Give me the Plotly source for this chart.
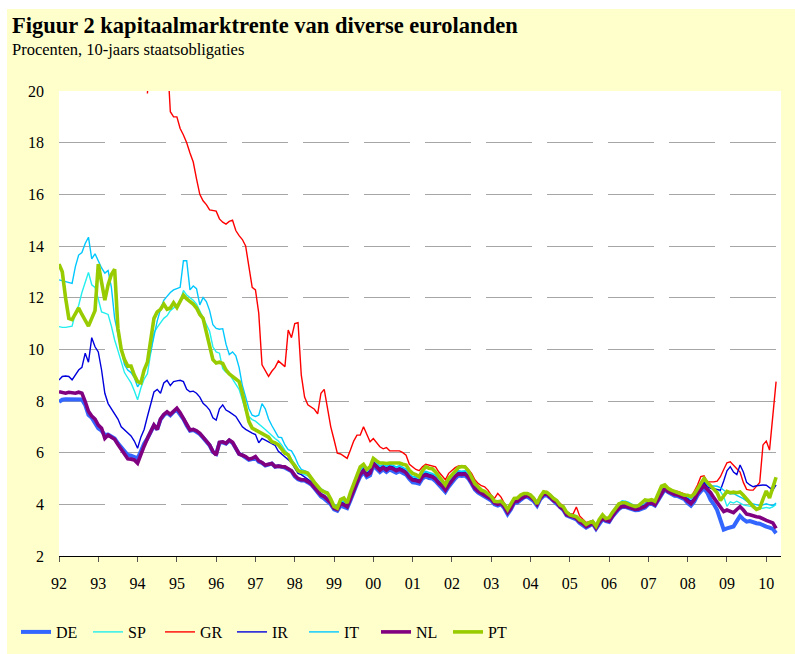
import plotly.graph_objects as go

# ---------------- data (monthly, Jan 1992 - Apr 2010) ----------------
start_year = 1992
series_names = ["DE", "SP", "GR", "IR", "IT", "NL", "PT"]

DE = [
    7.97, 8.05, 8.07, 8.07, 8.08, 8.07, 8.07, 8.06, 7.85, 7.46, 7.35, 7.15,
    6.94, 6.85, 6.68, 6.70, 6.62, 6.55, 6.36, 6.20, 6.04, 5.91, 5.88, 5.82,
    5.78, 6.05, 6.35, 6.55, 6.80, 7.05, 6.90, 7.28, 7.45, 7.55, 7.45, 7.58,
    7.65, 7.50, 7.30, 7.05, 6.85, 6.88, 6.82, 6.72, 6.58, 6.42, 6.28, 6.02,
    5.95, 6.38, 6.40, 6.35, 6.47, 6.38, 6.18, 5.95, 5.90, 5.83, 5.72, 5.75,
    5.80, 5.65, 5.60, 5.50, 5.55, 5.58, 5.45, 5.48, 5.45, 5.42, 5.35, 5.28,
    5.08, 4.97, 4.92, 4.92, 4.85, 4.77, 4.62, 4.45, 4.30, 4.22, 4.12, 4.00,
    3.80, 3.75, 3.95, 3.92, 3.85, 4.15, 4.50, 4.80, 5.08, 5.25, 5.05, 5.12,
    5.50, 5.38, 5.25, 5.35, 5.25, 5.35, 5.30, 5.22, 5.28, 5.22, 5.15, 4.98,
    4.85, 4.83, 4.80, 5.00, 5.08, 5.02, 5.00, 4.90, 4.75, 4.65, 4.48, 4.68,
    4.85, 5.00, 5.12, 5.10, 5.12, 5.00, 4.80, 4.57, 4.45, 4.38, 4.33, 4.25,
    4.15, 4.00, 3.95, 4.00, 3.85, 3.62, 3.80, 4.05, 4.07, 4.17, 4.27, 4.30,
    4.22, 4.12, 3.95, 4.20, 4.33, 4.35, 4.25, 4.12, 4.03, 3.87, 3.78, 3.57,
    3.52, 3.48, 3.42, 3.28, 3.20, 3.10, 3.17, 3.25, 3.05, 3.27, 3.42, 3.35,
    3.32, 3.52, 3.68, 3.82, 3.90, 3.90, 3.85, 3.82, 3.77, 3.78, 3.83, 3.88,
    4.00, 4.02, 3.95, 4.17, 4.42, 4.58, 4.47, 4.38, 4.33, 4.32, 4.25, 4.20,
    4.05, 3.95, 4.10, 4.35, 4.50, 4.62, 4.45, 4.17, 4.00, 3.78, 3.40, 3.02,
    3.07, 3.10, 3.14, 3.35, 3.55, 3.42, 3.33, 3.35, 3.30, 3.27, 3.25, 3.18,
    3.14, 3.10, 3.05, 2.88,
]

NL = [
    8.36, 8.32, 8.30, 8.34, 8.32, 8.30, 8.34, 8.30, 7.98, 7.60, 7.42, 7.30,
    7.07, 6.95, 6.55, 6.68, 6.60, 6.52, 6.32, 6.15, 5.95, 5.76, 5.75, 5.72,
    5.59, 5.95, 6.25, 6.55, 6.78, 7.07, 6.90, 7.30, 7.48, 7.58, 7.48, 7.62,
    7.72, 7.55, 7.35, 7.10, 6.88, 6.90, 6.85, 6.75, 6.60, 6.45, 6.30, 6.05,
    5.91, 6.40, 6.42, 6.36, 6.49, 6.40, 6.20, 5.95, 5.90, 5.85, 5.75, 5.78,
    5.85, 5.68, 5.62, 5.52, 5.55, 5.58, 5.46, 5.48, 5.46, 5.45, 5.38, 5.30,
    5.12, 5.00, 4.95, 4.95, 4.88, 4.80, 4.65, 4.50, 4.36, 4.30, 4.18, 4.05,
    3.85, 3.80, 4.02, 3.98, 3.90, 4.20, 4.55, 4.85, 5.15, 5.30, 5.12, 5.20,
    5.58, 5.45, 5.32, 5.42, 5.32, 5.42, 5.38, 5.30, 5.36, 5.30, 5.22, 5.05,
    4.94, 4.92, 4.88, 5.08, 5.14, 5.10, 5.07, 4.98, 4.82, 4.72, 4.55, 4.75,
    4.92, 5.08, 5.18, 5.16, 5.18, 5.05, 4.85, 4.62, 4.50, 4.42, 4.38, 4.30,
    4.20, 4.05, 4.00, 4.05, 3.90, 3.68, 3.85, 4.10, 4.12, 4.22, 4.30, 4.35,
    4.28, 4.17, 4.00, 4.25, 4.38, 4.40, 4.28, 4.15, 4.08, 3.90, 3.82, 3.60,
    3.55, 3.52, 3.45, 3.32, 3.25, 3.14, 3.20, 3.28, 3.08, 3.30, 3.45, 3.38,
    3.35, 3.55, 3.72, 3.85, 3.92, 3.92, 3.88, 3.85, 3.80, 3.82, 3.88, 3.92,
    4.04, 4.05, 3.98, 4.20, 4.45, 4.62, 4.50, 4.42, 4.38, 4.36, 4.30, 4.25,
    4.12, 4.02, 4.18, 4.42, 4.58, 4.72, 4.58, 4.45, 4.25, 4.08, 3.90, 3.72,
    3.78, 3.72, 3.68, 3.80, 3.91, 3.78, 3.62, 3.60, 3.55, 3.52, 3.50, 3.42,
    3.38, 3.33, 3.28, 3.07,
]

IR = [
    8.81, 8.95, 8.97, 8.95, 8.82, 9.00, 9.20, 9.30, 9.85, 9.50, 10.45, 10.10,
    9.90, 9.20, 8.30, 7.90, 7.70, 7.50, 7.30, 7.00, 6.88, 6.75, 6.65, 6.45,
    6.17, 6.60, 6.90, 7.40, 7.85, 8.35, 8.45, 8.30, 8.70, 8.80, 8.60, 8.75,
    8.78, 8.80, 8.75, 8.45, 8.36, 8.38, 8.30, 8.15, 7.91, 7.80, 7.65, 7.35,
    7.26, 7.70, 7.85, 7.65, 7.58, 7.50, 7.40, 7.20, 7.00, 6.90, 6.82, 6.76,
    6.70, 6.38, 6.55, 6.50, 6.42, 6.35, 6.28, 6.05, 5.95, 5.82, 5.72, 5.62,
    5.40, 5.20, 5.15, 5.05, 4.98, 4.88, 4.72, 4.58, 4.42, 4.35, 4.22, 4.10,
    3.92, 3.88, 4.08, 4.05, 3.98, 4.28, 4.65, 4.95, 5.22, 5.40, 5.20, 5.30,
    5.65, 5.52, 5.40, 5.48, 5.40, 5.48, 5.45, 5.36, 5.42, 5.36, 5.28, 5.10,
    5.00, 4.98, 4.94, 5.14, 5.20, 5.16, 5.12, 5.04, 4.88, 4.78, 4.60, 4.82,
    4.98, 5.13, 5.24, 5.22, 5.24, 5.12, 4.92, 4.70, 4.56, 4.48, 4.44, 4.36,
    4.25, 4.10, 4.05, 4.10, 3.95, 3.72, 3.90, 4.14, 4.17, 4.27, 4.36, 4.40,
    4.33, 4.22, 4.05, 4.30, 4.42, 4.45, 4.34, 4.22, 4.13, 3.97, 3.88, 3.67,
    3.60, 3.56, 3.50, 3.36, 3.28, 3.18, 3.25, 3.32, 3.13, 3.33, 3.50, 3.43,
    3.40, 3.60, 3.76, 3.90, 3.98, 3.98, 3.94, 3.91, 3.86, 3.88, 3.92, 3.96,
    4.08, 4.10, 4.03, 4.25, 4.50, 4.66, 4.55, 4.46, 4.42, 4.40, 4.33, 4.28,
    4.22, 4.12, 4.25, 4.48, 4.65, 4.85, 4.68, 4.62, 4.60, 4.58, 4.55, 4.90,
    5.30, 5.46, 5.25, 5.15, 5.52, 5.25, 4.85, 4.75, 4.68, 4.72, 4.75, 4.75,
    4.74, 4.65, 4.55, 4.75,
]

GR = [None] * 27 + [
    19.90, 23.0, 24.0, 24.5, 24.0, 23.0, 21.5, 19.2, 19.0,
    19.00, 18.55, 18.30, 18.00, 17.60, 17.25, 16.60, 16.00, 15.75, 15.60, 15.40, 15.38,
    15.35, 15.05, 14.92, 14.85, 14.95, 15.00, 14.60, 14.40, 14.25, 14.00, 13.20, 12.40,
    12.30, 11.40, 9.40, 9.20, 8.95, 9.15, 9.30, 9.55, 9.45, 9.33, 10.75, 10.45,
    11.00, 11.03, 9.00, 8.15, 7.85, 7.75, 7.68, 7.50, 8.30, 8.45, 7.70, 7.00,
    6.50, 5.98, 5.95, 5.85, 5.78, 6.10, 6.45, 6.68, 6.68, 7.00, 6.68, 6.42,
    6.55, 6.40, 6.23, 6.15, 6.20, 6.07, 6.07, 6.07, 6.07, 6.00, 5.90, 5.55,
    5.45, 5.35, 5.30, 5.45, 5.55, 5.52, 5.50, 5.45, 5.25, 5.10, 4.95, 5.20,
    5.33, 5.42, 5.49, 5.49, 5.49, 5.35, 5.20, 4.95, 4.81, 4.72, 4.68, 4.55,
    4.36, 4.23, 4.42, 4.28, 4.05, 3.80, 3.95, 4.20, 4.22, 4.32, 4.42, 4.45,
    4.38, 4.27, 4.10, 4.35, 4.47, 4.50, 4.38, 4.27, 4.17, 4.02, 3.93, 3.72,
    3.65, 3.62, 3.90, 3.55, 3.42, 3.30, 3.33, 3.38, 3.18, 3.38, 3.55, 3.48,
    3.45, 3.65, 3.82, 3.98, 4.06, 4.06, 4.02, 3.98, 3.92, 3.95, 3.98, 4.02,
    4.15, 4.16, 4.10, 4.32, 4.56, 4.72, 4.62, 4.55, 4.52, 4.50, 4.45, 4.40,
    4.38, 4.30, 4.50, 4.75, 5.07, 5.10, 4.87, 4.86, 4.87, 4.90, 5.07, 5.35,
    5.61, 5.65, 5.50, 5.38, 5.25, 4.85, 4.58, 4.55, 4.55, 4.70, 4.85, 6.30,
    6.45, 6.10, 7.30, 8.75,
]

IT = [
    12.69, 12.65, 12.62, 12.60, 12.55, 13.20, 13.65, 13.75, 14.10, 14.34, 13.50, 13.70,
    13.40, 13.15, 12.95, 13.05, 12.40, 11.20, 10.60, 10.00, 9.40, 9.20, 9.10, 8.90,
    8.55, 8.75, 9.15, 9.50, 9.90, 10.50, 11.10, 11.55, 11.90, 12.05, 12.20, 12.30,
    12.35, 12.40, 13.43, 13.43, 12.30, 12.45, 12.35, 11.72, 12.00, 11.85, 11.50, 10.95,
    10.81, 10.78, 10.80, 10.20, 9.80, 9.90, 9.75, 9.30, 8.60, 8.15, 7.70, 7.45,
    7.40, 7.45, 7.90, 7.70, 7.30, 7.05, 6.81, 6.60, 6.58, 6.30, 6.12, 6.07,
    5.85, 5.55, 5.35, 5.30, 5.25, 5.05, 4.90, 4.70, 4.60, 4.52, 4.48, 4.25,
    3.98, 3.95, 4.15, 4.12, 4.05, 4.35, 4.72, 5.02, 5.30, 5.48, 5.28, 5.38,
    5.72, 5.62, 5.48, 5.55, 5.48, 5.55, 5.52, 5.45, 5.50, 5.45, 5.37, 5.18,
    5.08, 5.06, 5.02, 5.22, 5.28, 5.24, 5.20, 5.12, 4.98, 4.88, 4.70, 4.90,
    5.05, 5.20, 5.30, 5.28, 5.30, 5.17, 4.98, 4.76, 4.62, 4.55, 4.50, 4.42,
    4.30, 4.15, 4.10, 4.15, 4.00, 3.78, 3.95, 4.18, 4.21, 4.32, 4.40, 4.44,
    4.37, 4.27, 4.10, 4.34, 4.47, 4.48, 4.38, 4.26, 4.17, 4.01, 3.92, 3.72,
    3.63, 3.60, 3.55, 3.42, 3.36, 3.27, 3.32, 3.38, 3.20, 3.38, 3.54, 3.48,
    3.48, 3.68, 3.85, 4.02, 4.12, 4.12, 4.08, 4.02, 3.93, 3.95, 3.98, 4.02,
    4.13, 4.15, 4.08, 4.30, 4.54, 4.70, 4.59, 4.50, 4.46, 4.44, 4.38, 4.34,
    4.30, 4.25, 4.38, 4.58, 4.80, 5.05, 4.78, 4.72, 4.72, 4.70, 4.65, 4.55,
    4.45, 4.40, 4.42, 4.35, 4.30, 4.22, 4.12, 4.05, 4.02, 3.98, 3.95, 3.98,
    4.02, 3.98, 3.95, 4.05,
]

SP = [
    10.88, 10.85, 10.85, 10.88, 10.90, 11.40, 11.70, 12.20, 12.60, 12.98, 12.50, 12.40,
    11.95, 11.45, 11.40, 11.35, 10.90, 10.36, 9.95, 9.50, 9.10, 8.90, 8.70, 8.40,
    8.05, 8.50, 8.85, 9.05, 9.90, 10.65, 10.85, 11.02, 11.20, 11.30, 11.50, 11.60,
    11.70, 11.85, 12.28, 12.10, 12.00, 11.90, 11.75, 11.50, 11.26, 11.00, 10.70, 10.10,
    9.90, 9.85, 9.25, 9.12, 9.05, 8.85, 8.65, 8.45, 8.05, 7.60, 7.40, 7.28,
    7.22, 7.12, 7.00, 6.90, 6.78, 6.65, 6.55, 6.45, 6.30, 6.10, 5.95, 5.75,
    5.55, 5.35, 5.20, 5.15, 5.10, 5.00, 4.85, 4.62, 4.50, 4.45, 4.35, 4.15,
    3.95, 3.92, 4.12, 4.10, 4.02, 4.32, 4.68, 4.98, 5.26, 5.44, 5.24, 5.34,
    5.68, 5.58, 5.45, 5.52, 5.45, 5.52, 5.48, 5.42, 5.47, 5.41, 5.33, 5.15,
    5.05, 5.03, 4.98, 5.18, 5.25, 5.20, 5.17, 5.08, 4.94, 4.84, 4.66, 4.86,
    5.02, 5.17, 5.28, 5.26, 5.28, 5.15, 4.95, 4.72, 4.58, 4.50, 4.46, 4.38,
    4.26, 4.12, 4.06, 4.11, 3.97, 3.74, 3.92, 4.16, 4.19, 4.30, 4.38, 4.42,
    4.35, 4.24, 4.07, 4.32, 4.45, 4.46, 4.36, 4.24, 4.15, 3.99, 3.90, 3.68,
    3.60, 3.57, 3.52, 3.39, 3.33, 3.24, 3.29, 3.35, 3.17, 3.36, 3.52, 3.46,
    3.46, 3.66, 3.84, 4.02, 4.14, 4.10, 4.05, 3.99, 3.90, 3.92, 3.95, 3.99,
    4.11, 4.12, 4.06, 4.28, 4.52, 4.67, 4.56, 4.47, 4.43, 4.41, 4.35, 4.31,
    4.27, 4.20, 4.32, 4.52, 4.70, 4.92, 4.72, 4.66, 4.62, 4.58, 4.50, 4.30,
    3.92, 4.10, 4.05, 4.12, 4.05, 3.98, 3.95, 3.92, 3.90, 3.88, 3.86, 3.85,
    3.88, 3.85, 3.90, 4.00,
]

PT = [
    13.30, 13.00, 12.00, 11.20, 11.15, 11.40, 11.60, 11.35, 11.10, 10.90, 11.20, 11.50,
    13.30, 12.60, 11.90, 12.50, 12.90, 13.10, 10.80, 10.00, 9.60, 9.35, 9.35, 9.00,
    8.75, 8.70, 9.20, 9.50, 10.30, 11.20, 11.45, 11.55, 11.75, 11.55, 11.60, 11.80,
    11.62, 11.90, 12.10, 11.95, 11.85, 11.75, 11.60, 11.35, 11.20, 10.70, 10.20, 9.60,
    9.47, 9.50, 9.45, 9.20, 9.05, 8.94, 8.85, 8.75, 8.30, 7.80, 7.20, 6.95,
    6.88, 6.80, 6.76, 6.70, 6.60, 6.42, 6.38, 6.30, 6.15, 5.98, 5.92, 5.65,
    5.50, 5.30, 5.25, 5.25, 5.20, 5.00, 4.85, 4.70, 4.55, 4.48, 4.43, 4.20,
    3.92, 3.85, 4.18, 4.24, 4.05, 4.45, 4.80, 5.10, 5.45, 5.55, 5.35, 5.45,
    5.78, 5.68, 5.60, 5.60, 5.58, 5.60, 5.60, 5.58, 5.60, 5.55, 5.52, 5.32,
    5.20, 5.15, 5.07, 5.30, 5.46, 5.40, 5.38, 5.25, 5.07, 4.90, 4.75, 5.00,
    5.13, 5.30, 5.42, 5.46, 5.45, 5.30, 5.07, 4.80, 4.68, 4.55, 4.50, 4.42,
    4.30, 4.12, 4.10, 4.12, 4.00, 3.80, 4.00, 4.23, 4.24, 4.36, 4.42, 4.42,
    4.36, 4.23, 4.02, 4.30, 4.49, 4.46, 4.36, 4.23, 4.15, 3.97, 3.91, 3.70,
    3.59, 3.56, 3.52, 3.40, 3.35, 3.22, 3.30, 3.33, 3.15, 3.42, 3.59, 3.45,
    3.48, 3.68, 3.85, 4.02, 4.06, 4.06, 4.00, 3.95, 3.91, 3.95, 4.05, 4.17,
    4.15, 4.18, 4.12, 4.38, 4.70, 4.75, 4.62, 4.55, 4.50, 4.45, 4.42, 4.35,
    4.35, 4.30, 4.40, 4.60, 4.80, 5.00, 4.85, 4.70, 4.60, 4.45, 4.15, 4.35,
    4.50, 4.45, 4.47, 4.45, 4.48, 4.35, 4.20, 4.02, 3.92, 3.80, 3.85, 4.20,
    4.52, 4.25, 4.60, 5.05,
]

year_ticks = list(range(1992, 2011))
year_labels = ["%02d" % (y % 100) for y in year_ticks]

# ---------------- styling ----------------
styles = {
    "DE": dict(color="#3366FF", width=4),
    "SP": dict(color="#22EEEE", width=1.4),
    "GR": dict(color="#FF0000", width=1.4),
    "IR": dict(color="#0000DD", width=1.4),
    "IT": dict(color="#00C8FF", width=1.4),
    "NL": dict(color="#800080", width=3.6),
    "PT": dict(color="#99CC00", width=3.6),
}
data = {"DE": DE, "SP": SP, "GR": GR, "IR": IR, "IT": IT, "NL": NL, "PT": PT}

fig = go.Figure()
for name in series_names:
    vals = data[name]
    x = [start_year + i / 12.0 for i in range(len(vals))]
    fig.add_trace(go.Scatter(x=x, y=vals, mode="lines", name=name,
                             line=dict(color=styles[name]["color"], width=styles[name]["width"]),
                             connectgaps=False))

SERIF = "Liberation Serif"
L, R, T, B = 59, 14, 91, 98
W, H = 795, 654
pw, ph = W - L - R, H - T - B


def px_x(p):
    return (p - L) / pw


def px_y(p):
    return (H - B - p) / ph


fig.update_layout(
    width=W, height=H,
    margin=dict(l=L, r=R, t=T, b=B, pad=0, autoexpand=False),
    paper_bgcolor="#FFFFCC",
    plot_bgcolor="#FFFFFF",
    font=dict(family=SERIF, size=16, color="black"),
    showlegend=True,
    legend=dict(orientation="h", x=px_x(16), xanchor="left", y=px_y(632), yanchor="middle",
                font=dict(family=SERIF, size=16, color="black"),
                bgcolor="rgba(0,0,0,0)", itemwidth=30,
                entrywidth=27, entrywidthmode="pixels", tracegroupgap=0),
    xaxis=dict(range=[1992, 2010.375], tickmode="array", tickvals=year_ticks, ticktext=year_labels,
               showgrid=False, zeroline=False, showline=True, linecolor="black", linewidth=1.2,
               ticks="outside", ticklen=5, tickwidth=1, tickcolor="#555555",
               tickfont=dict(family=SERIF, size=16, color="black"), ticklabelstandoff=8),
    yaxis=dict(range=[2, 20], dtick=2, tick0=2, showgrid=True, gridcolor="#A6A6A6", gridwidth=1,
               griddash="46px,15px", zeroline=False, showline=False, ticks="",
               tickfont=dict(family=SERIF, size=16, color="black"), ticklabelstandoff=14),
    shapes=[
        dict(type="rect", xref="paper", yref="paper", layer="below", line=dict(width=0),
             fillcolor="white", x0=px_x(0), x1=px_x(7), y0=px_y(H), y1=px_y(0)),
        dict(type="rect", xref="paper", yref="paper", layer="below", line=dict(width=0),
             fillcolor="white", x0=px_x(0), x1=px_x(W), y0=px_y(9), y1=px_y(0)),
    ],
    annotations=[
        dict(text="<b>Figuur 2 kapitaalmarktrente van diverse eurolanden</b>", xref="paper", yref="paper",
             x=px_x(10), y=px_y(11), xanchor="left", yanchor="top", showarrow=False,
             font=dict(family=SERIF, size=22.5, color="black")),
        dict(text="Procenten, 10-jaars staatsobligaties", xref="paper", yref="paper",
             x=px_x(10), y=px_y(38), xanchor="left", yanchor="top", showarrow=False,
             font=dict(family=SERIF, size=16.5, color="black")),
    ],
)

fig.write_html("out.html", config={"displayModeBar": False},
               post_script="document.body.style.margin='0px';document.body.style.padding='0px';")
